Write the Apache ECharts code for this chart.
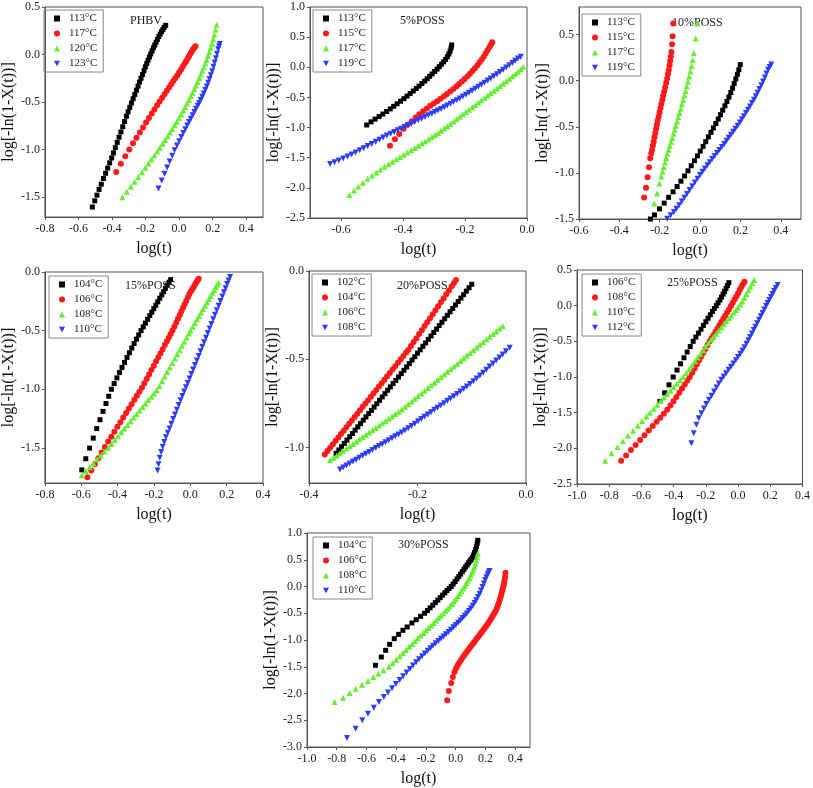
<!DOCTYPE html>
<html>
<head>
<meta charset="utf-8">
<script src="https://cdn.jsdelivr.net/npm/echarts@6/dist/echarts.min.js"></script>
<style>
  html, body { margin: 0; padding: 0; background: #fff; }
  #chart { width: 813px; height: 788px; }
</style>
</head>
<body>
<div id="chart"></div>
<script>
// ---- data: [log(t), log(-ln(1-X(t)))] ----

// PHBV
const phbvTemps = ['113°C', '117°C', '120°C', '123°C'];
const phbvXTicks = [-0.8, -0.6, -0.4, -0.2, 0, 0.2, 0.4];
const phbvYTicks = [-1.5, -1, -0.5, 0, 0.5];
const phbv113 = [[-0.517,-1.605],[-0.503,-1.54],[-0.490,-1.48],[-0.477,-1.42],[-0.464,-1.365],[-0.451,-1.305],[-0.438,-1.25],[-0.426,-1.195],[-0.414,-1.14],[-0.402,-1.088],[-0.391,-1.035],[-0.380,-0.98],[-0.369,-0.925],[-0.358,-0.87],[-0.347,-0.815],[-0.336,-0.76],[-0.325,-0.705],[-0.314,-0.65],[-0.304,-0.603],[-0.294,-0.556],[-0.284,-0.51],[-0.274,-0.465],[-0.264,-0.42],[-0.254,-0.375],[-0.245,-0.333],[-0.236,-0.29],[-0.227,-0.25],[-0.218,-0.21],[-0.209,-0.17],[-0.201,-0.13],[-0.193,-0.095],[-0.185,-0.06],[-0.177,-0.027],[-0.169,0.006],[-0.161,0.038],[-0.153,0.07],[-0.145,0.1],[-0.137,0.13],[-0.129,0.16],[-0.121,0.188],[-0.113,0.215],[-0.105,0.24],[-0.097,0.262],[-0.089,0.285],[-0.080,0.307]];
const phbv117 = [[-0.375,-1.237],[-0.347,-1.15],[-0.321,-1.07],[-0.297,-1.0],[-0.275,-0.935],[-0.254,-0.876],[-0.234,-0.82],[-0.215,-0.767],[-0.197,-0.716],[-0.180,-0.668],[-0.163,-0.621],[-0.147,-0.578],[-0.131,-0.535],[-0.116,-0.495],[-0.101,-0.455],[-0.087,-0.418],[-0.073,-0.381],[-0.060,-0.346],[-0.047,-0.312],[-0.035,-0.28],[-0.023,-0.25],[-0.011,-0.22],[0.000,-0.19],[0.011,-0.16],[0.021,-0.13],[0.031,-0.101],[0.041,-0.073],[0.050,-0.045],[0.059,-0.018],[0.067,0.008],[0.075,0.033],[0.083,0.055],[0.091,0.073],[0.098,0.087]];
const phbv120 = [[-0.338,-1.503],[-0.312,-1.445],[-0.288,-1.39],[-0.265,-1.338],[-0.243,-1.288],[-0.222,-1.24],[-0.202,-1.193],[-0.183,-1.148],[-0.165,-1.104],[-0.148,-1.062],[-0.131,-1.02],[-0.115,-0.98],[-0.099,-0.94],[-0.084,-0.9],[-0.069,-0.861],[-0.055,-0.822],[-0.041,-0.783],[-0.027,-0.745],[-0.014,-0.707],[-0.001,-0.669],[0.012,-0.63],[0.024,-0.592],[0.036,-0.553],[0.047,-0.516],[0.058,-0.478],[0.069,-0.44],[0.080,-0.402],[0.090,-0.364],[0.100,-0.326],[0.110,-0.288],[0.120,-0.249],[0.129,-0.211],[0.138,-0.172],[0.147,-0.133],[0.156,-0.093],[0.164,-0.054],[0.172,-0.014],[0.180,0.027],[0.188,0.07],[0.196,0.115],[0.203,0.16],[0.210,0.208],[0.217,0.26],[0.224,0.314]];
const phbv123 = [[-0.123,-1.409],[-0.104,-1.327],[-0.087,-1.255],[-0.071,-1.188],[-0.056,-1.125],[-0.041,-1.065],[-0.027,-1.008],[-0.013,-0.958],[0.000,-0.912],[0.013,-0.868],[0.025,-0.826],[0.037,-0.786],[0.048,-0.748],[0.059,-0.711],[0.070,-0.675],[0.081,-0.639],[0.091,-0.605],[0.101,-0.572],[0.111,-0.54],[0.120,-0.51],[0.129,-0.478],[0.138,-0.444],[0.147,-0.41],[0.156,-0.374],[0.165,-0.336],[0.173,-0.298],[0.181,-0.258],[0.189,-0.217],[0.197,-0.175],[0.205,-0.13],[0.212,-0.085],[0.219,-0.04],[0.226,0.007],[0.233,0.055],[0.238,0.085],[0.242,0.111]];

// 5%POSS
const poss5Temps = ['113°C', '115°C', '117°C', '119°C'];
const poss5XTicks = [-0.6, -0.4, -0.2, 0];
const poss5YTicks = [-2.5, -2, -1.5, -1, -0.5, 0, 0.5, 1];
const poss5_113 = [[-0.517,-0.957],[-0.503,-0.905],[-0.490,-0.86],[-0.477,-0.817],[-0.465,-0.775],[-0.453,-0.733],[-0.441,-0.69],[-0.430,-0.647],[-0.419,-0.605],[-0.408,-0.563],[-0.397,-0.52],[-0.387,-0.478],[-0.377,-0.436],[-0.367,-0.394],[-0.357,-0.352],[-0.348,-0.311],[-0.339,-0.27],[-0.330,-0.23],[-0.322,-0.19],[-0.314,-0.15],[-0.306,-0.11],[-0.298,-0.07],[-0.290,-0.03],[-0.283,0.01],[-0.276,0.05],[-0.269,0.09],[-0.263,0.13],[-0.257,0.175],[-0.252,0.22],[-0.248,0.268],[-0.245,0.32],[-0.243,0.37]];
const poss5_115 = [[-0.442,-1.3],[-0.426,-1.195],[-0.412,-1.105],[-0.398,-1.02],[-0.385,-0.955],[-0.372,-0.895],[-0.359,-0.835],[-0.347,-0.78],[-0.335,-0.73],[-0.323,-0.683],[-0.312,-0.64],[-0.301,-0.6],[-0.290,-0.562],[-0.279,-0.522],[-0.268,-0.482],[-0.258,-0.443],[-0.248,-0.403],[-0.238,-0.362],[-0.228,-0.32],[-0.219,-0.278],[-0.210,-0.236],[-0.201,-0.193],[-0.192,-0.15],[-0.184,-0.106],[-0.176,-0.06],[-0.168,-0.014],[-0.160,0.034],[-0.153,0.082],[-0.146,0.13],[-0.139,0.18],[-0.133,0.232],[-0.127,0.285],[-0.121,0.335],[-0.116,0.38],[-0.112,0.414]];
const poss5_117 = [[-0.573,-2.118],[-0.558,-2.045],[-0.544,-1.98],[-0.529,-1.915],[-0.514,-1.85],[-0.500,-1.795],[-0.486,-1.745],[-0.473,-1.696],[-0.460,-1.65],[-0.447,-1.607],[-0.434,-1.565],[-0.422,-1.525],[-0.410,-1.487],[-0.398,-1.45],[-0.386,-1.412],[-0.374,-1.375],[-0.362,-1.338],[-0.351,-1.302],[-0.340,-1.266],[-0.329,-1.23],[-0.318,-1.194],[-0.307,-1.158],[-0.297,-1.123],[-0.287,-1.088],[-0.277,-1.052],[-0.267,-1.016],[-0.257,-0.98],[-0.247,-0.94],[-0.237,-0.9],[-0.227,-0.86],[-0.217,-0.82],[-0.207,-0.781],[-0.197,-0.742],[-0.187,-0.703],[-0.177,-0.664],[-0.167,-0.625],[-0.157,-0.586],[-0.147,-0.547],[-0.137,-0.508],[-0.127,-0.469],[-0.117,-0.43],[-0.107,-0.39],[-0.097,-0.35],[-0.087,-0.31],[-0.077,-0.27],[-0.067,-0.23],[-0.057,-0.19],[-0.047,-0.15],[-0.038,-0.112],[-0.029,-0.074],[-0.020,-0.034],[-0.012,0.01]];
const poss5_119 = [[-0.635,-1.604],[-0.621,-1.575],[-0.607,-1.545],[-0.593,-1.513],[-0.579,-1.48],[-0.566,-1.447],[-0.553,-1.413],[-0.540,-1.378],[-0.527,-1.343],[-0.514,-1.307],[-0.501,-1.272],[-0.488,-1.237],[-0.476,-1.2],[-0.464,-1.165],[-0.452,-1.133],[-0.440,-1.102],[-0.428,-1.072],[-0.417,-1.045],[-0.406,-1.018],[-0.395,-0.99],[-0.384,-0.962],[-0.373,-0.935],[-0.362,-0.907],[-0.351,-0.88],[-0.340,-0.852],[-0.329,-0.825],[-0.318,-0.797],[-0.307,-0.77],[-0.297,-0.743],[-0.287,-0.717],[-0.277,-0.69],[-0.267,-0.662],[-0.257,-0.634],[-0.247,-0.606],[-0.237,-0.577],[-0.227,-0.547],[-0.217,-0.517],[-0.207,-0.486],[-0.197,-0.455],[-0.187,-0.423],[-0.177,-0.39],[-0.167,-0.357],[-0.157,-0.323],[-0.147,-0.289],[-0.137,-0.255],[-0.127,-0.22],[-0.117,-0.185],[-0.107,-0.15],[-0.097,-0.114],[-0.087,-0.077],[-0.077,-0.04],[-0.067,-0.003],[-0.057,0.035],[-0.047,0.073],[-0.038,0.11],[-0.029,0.145],[-0.020,0.176]];

// 10%POSS
const poss10Temps = ['113°C', '115°C', '117°C', '119°C'];
const poss10XTicks = [-0.6, -0.4, -0.2, 0, 0.2, 0.4];
const poss10YTicks = [-1.5, -1, -0.5, 0, 0.5];
const poss10_113 = [[-0.246,-1.5],[-0.226,-1.456],[-0.201,-1.39],[-0.178,-1.328],[-0.156,-1.265],[-0.134,-1.205],[-0.114,-1.148],[-0.095,-1.09],[-0.077,-1.033],[-0.060,-0.977],[-0.044,-0.922],[-0.028,-0.868],[-0.013,-0.815],[0.001,-0.763],[0.015,-0.712],[0.028,-0.661],[0.041,-0.61],[0.054,-0.56],[0.066,-0.512],[0.078,-0.464],[0.090,-0.416],[0.101,-0.368],[0.112,-0.32],[0.123,-0.272],[0.133,-0.225],[0.143,-0.177],[0.152,-0.128],[0.161,-0.08],[0.169,-0.03],[0.177,0.02],[0.185,0.07],[0.192,0.12],[0.199,0.175]];
const poss10_115 = [[-0.277,-1.268],[-0.268,-1.162],[-0.260,-1.048],[-0.253,-0.939],[-0.247,-0.84],[-0.242,-0.79],[-0.238,-0.749],[-0.234,-0.703],[-0.230,-0.658],[-0.226,-0.612],[-0.222,-0.567],[-0.218,-0.522],[-0.214,-0.477],[-0.210,-0.432],[-0.205,-0.387],[-0.201,-0.342],[-0.196,-0.297],[-0.192,-0.252],[-0.187,-0.207],[-0.183,-0.162],[-0.178,-0.116],[-0.173,-0.07],[-0.168,-0.023],[-0.163,0.025],[-0.159,0.072],[-0.155,0.12],[-0.151,0.168],[-0.148,0.215],[-0.145,0.262],[-0.142,0.311],[-0.139,0.395],[-0.136,0.483],[-0.133,0.622]];
const poss10_117 = [[-0.227,-1.333],[-0.213,-1.224],[-0.202,-1.114],[-0.193,-1.04],[-0.186,-0.985],[-0.180,-0.935],[-0.174,-0.885],[-0.168,-0.838],[-0.162,-0.792],[-0.156,-0.748],[-0.150,-0.705],[-0.144,-0.662],[-0.138,-0.62],[-0.132,-0.576],[-0.126,-0.532],[-0.120,-0.487],[-0.114,-0.442],[-0.108,-0.396],[-0.102,-0.35],[-0.096,-0.303],[-0.090,-0.256],[-0.084,-0.208],[-0.078,-0.16],[-0.072,-0.11],[-0.066,-0.06],[-0.060,-0.008],[-0.054,0.045],[-0.048,0.1],[-0.042,0.16],[-0.037,0.225],[-0.031,0.3],[-0.022,0.457],[-0.013,0.622]];
const poss10_119 = [[-0.163,-1.498],[-0.146,-1.46],[-0.130,-1.425],[-0.117,-1.39],[-0.104,-1.352],[-0.091,-1.311],[-0.078,-1.27],[-0.065,-1.228],[-0.052,-1.186],[-0.039,-1.145],[-0.026,-1.104],[-0.013,-1.063],[0.000,-1.022],[0.012,-0.987],[0.024,-0.952],[0.036,-0.918],[0.048,-0.884],[0.060,-0.85],[0.072,-0.817],[0.084,-0.784],[0.096,-0.751],[0.108,-0.718],[0.120,-0.685],[0.131,-0.652],[0.142,-0.619],[0.153,-0.586],[0.164,-0.553],[0.175,-0.52],[0.186,-0.487],[0.197,-0.453],[0.207,-0.419],[0.217,-0.385],[0.227,-0.35],[0.237,-0.315],[0.247,-0.279],[0.257,-0.242],[0.267,-0.205],[0.276,-0.168],[0.285,-0.13],[0.294,-0.09],[0.303,-0.05],[0.312,-0.008],[0.321,0.035],[0.329,0.078],[0.337,0.12],[0.345,0.15],[0.353,0.175]];

// 15%POSS
const poss15Temps = ['104°C', '106°C', '108°C', '110°C'];
const poss15XTicks = [-0.8, -0.6, -0.4, -0.2, 0, 0.2, 0.4];
const poss15YTicks = [-1.5, -1, -0.5, 0];
const poss15_104 = [[-0.597,-1.688],[-0.575,-1.593],[-0.554,-1.502],[-0.534,-1.417],[-0.515,-1.336],[-0.497,-1.26],[-0.480,-1.189],[-0.464,-1.122],[-0.449,-1.06],[-0.434,-1.0],[-0.419,-0.951],[-0.404,-0.903],[-0.390,-0.858],[-0.376,-0.814],[-0.362,-0.771],[-0.348,-0.729],[-0.335,-0.689],[-0.322,-0.649],[-0.309,-0.61],[-0.296,-0.573],[-0.284,-0.537],[-0.271,-0.5],[-0.259,-0.468],[-0.247,-0.436],[-0.235,-0.404],[-0.223,-0.372],[-0.212,-0.343],[-0.201,-0.313],[-0.190,-0.284],[-0.179,-0.254],[-0.168,-0.224],[-0.157,-0.195],[-0.147,-0.168],[-0.137,-0.14],[-0.127,-0.113],[-0.117,-0.087],[-0.108,-0.065]];
const poss15_106 = [[-0.566,-1.751],[-0.545,-1.694],[-0.525,-1.64],[-0.506,-1.589],[-0.488,-1.54],[-0.470,-1.492],[-0.452,-1.447],[-0.435,-1.405],[-0.418,-1.363],[-0.401,-1.321],[-0.385,-1.281],[-0.369,-1.241],[-0.353,-1.202],[-0.338,-1.165],[-0.323,-1.128],[-0.308,-1.09],[-0.294,-1.056],[-0.280,-1.022],[-0.266,-0.987],[-0.253,-0.95],[-0.240,-0.912],[-0.227,-0.875],[-0.214,-0.837],[-0.201,-0.8],[-0.188,-0.762],[-0.176,-0.727],[-0.164,-0.693],[-0.152,-0.658],[-0.140,-0.623],[-0.129,-0.591],[-0.118,-0.559],[-0.108,-0.529],[-0.098,-0.5],[-0.088,-0.466],[-0.078,-0.433],[-0.068,-0.399],[-0.058,-0.366],[-0.049,-0.335],[-0.040,-0.305],[-0.031,-0.275],[-0.022,-0.245],[-0.013,-0.215],[-0.005,-0.188],[0.003,-0.167],[0.011,-0.146],[0.019,-0.125],[0.027,-0.104],[0.034,-0.086],[0.040,-0.071],[0.046,-0.057]];
const poss15_108 = [[-0.597,-1.734],[-0.575,-1.699],[-0.554,-1.665],[-0.533,-1.631],[-0.512,-1.597],[-0.492,-1.565],[-0.472,-1.532],[-0.452,-1.5],[-0.434,-1.467],[-0.416,-1.434],[-0.398,-1.401],[-0.380,-1.368],[-0.363,-1.336],[-0.346,-1.305],[-0.329,-1.274],[-0.312,-1.242],[-0.295,-1.211],[-0.279,-1.182],[-0.263,-1.152],[-0.247,-1.123],[-0.231,-1.093],[-0.215,-1.064],[-0.200,-1.036],[-0.185,-1.009],[-0.170,-0.972],[-0.155,-0.931],[-0.141,-0.892],[-0.127,-0.854],[-0.113,-0.815],[-0.099,-0.776],[-0.085,-0.738],[-0.072,-0.702],[-0.059,-0.666],[-0.046,-0.63],[-0.033,-0.594],[-0.020,-0.559],[-0.008,-0.525],[0.001,-0.5],[0.013,-0.468],[0.025,-0.436],[0.037,-0.404],[0.048,-0.375],[0.059,-0.346],[0.070,-0.316],[0.081,-0.287],[0.092,-0.258],[0.102,-0.231],[0.112,-0.205],[0.122,-0.178],[0.131,-0.154],[0.140,-0.13],[0.148,-0.109],[0.155,-0.09]];
const poss15_110 = [[-0.180,-1.694],[-0.175,-1.64],[-0.168,-1.585],[-0.160,-1.535],[-0.152,-1.49],[-0.143,-1.45],[-0.134,-1.41],[-0.124,-1.372],[-0.114,-1.335],[-0.104,-1.295],[-0.094,-1.255],[-0.084,-1.215],[-0.074,-1.175],[-0.064,-1.135],[-0.054,-1.095],[-0.044,-1.057],[-0.034,-1.02],[-0.024,-0.983],[-0.014,-0.946],[-0.004,-0.908],[0.006,-0.87],[0.016,-0.832],[0.026,-0.793],[0.036,-0.755],[0.046,-0.716],[0.056,-0.677],[0.066,-0.638],[0.076,-0.599],[0.086,-0.56],[0.096,-0.521],[0.106,-0.482],[0.116,-0.443],[0.126,-0.404],[0.136,-0.365],[0.146,-0.326],[0.156,-0.287],[0.166,-0.248],[0.176,-0.209],[0.185,-0.173],[0.194,-0.138],[0.203,-0.103],[0.211,-0.072],[0.219,-0.042]];

// 20%POSS
const poss20Temps = ['102°C', '104°C', '106°C', '108°C'];
const poss20XTicks = [-0.4, -0.2, 0];
const poss20YTicks = [-1, -0.5, 0];
const poss20_102 = [[-0.350,-1.032],[-0.345,-1.013],[-0.340,-0.995],[-0.335,-0.976],[-0.330,-0.957],[-0.325,-0.938],[-0.320,-0.92],[-0.315,-0.901],[-0.310,-0.882],[-0.305,-0.864],[-0.300,-0.845],[-0.295,-0.826],[-0.290,-0.807],[-0.285,-0.789],[-0.280,-0.77],[-0.275,-0.751],[-0.270,-0.732],[-0.265,-0.713],[-0.260,-0.694],[-0.255,-0.675],[-0.250,-0.656],[-0.245,-0.637],[-0.240,-0.619],[-0.235,-0.6],[-0.230,-0.581],[-0.225,-0.562],[-0.220,-0.543],[-0.215,-0.524],[-0.210,-0.504],[-0.205,-0.485],[-0.200,-0.465],[-0.195,-0.446],[-0.190,-0.426],[-0.185,-0.407],[-0.180,-0.387],[-0.175,-0.368],[-0.170,-0.348],[-0.165,-0.329],[-0.160,-0.309],[-0.155,-0.29],[-0.150,-0.27],[-0.145,-0.251],[-0.140,-0.231],[-0.135,-0.212],[-0.130,-0.192],[-0.125,-0.173],[-0.120,-0.153],[-0.115,-0.134],[-0.110,-0.114],[-0.105,-0.095],[-0.100,-0.075]];
const poss20_104 = [[-0.371,-1.038],[-0.366,-1.019],[-0.361,-1.0],[-0.356,-0.98],[-0.351,-0.961],[-0.346,-0.942],[-0.341,-0.923],[-0.336,-0.904],[-0.331,-0.884],[-0.326,-0.865],[-0.321,-0.846],[-0.316,-0.827],[-0.311,-0.808],[-0.306,-0.788],[-0.301,-0.769],[-0.296,-0.75],[-0.291,-0.731],[-0.286,-0.712],[-0.281,-0.692],[-0.276,-0.673],[-0.271,-0.654],[-0.266,-0.635],[-0.261,-0.616],[-0.256,-0.596],[-0.251,-0.577],[-0.246,-0.558],[-0.241,-0.539],[-0.236,-0.52],[-0.231,-0.5],[-0.226,-0.481],[-0.221,-0.462],[-0.217,-0.447],[-0.212,-0.425],[-0.207,-0.402],[-0.202,-0.38],[-0.197,-0.357],[-0.192,-0.335],[-0.187,-0.312],[-0.182,-0.29],[-0.177,-0.267],[-0.172,-0.245],[-0.167,-0.222],[-0.162,-0.2],[-0.157,-0.177],[-0.152,-0.155],[-0.147,-0.132],[-0.142,-0.11],[-0.137,-0.087],[-0.133,-0.069],[-0.129,-0.051]];
const poss20_106 = [[-0.361,-1.07],[-0.355,-1.057],[-0.349,-1.044],[-0.343,-1.031],[-0.337,-1.018],[-0.331,-1.005],[-0.325,-0.992],[-0.319,-0.979],[-0.313,-0.966],[-0.307,-0.953],[-0.301,-0.94],[-0.295,-0.927],[-0.289,-0.914],[-0.283,-0.901],[-0.277,-0.888],[-0.271,-0.875],[-0.265,-0.862],[-0.259,-0.849],[-0.253,-0.836],[-0.247,-0.823],[-0.241,-0.81],[-0.235,-0.797],[-0.229,-0.784],[-0.223,-0.769],[-0.217,-0.754],[-0.211,-0.739],[-0.205,-0.723],[-0.199,-0.708],[-0.193,-0.693],[-0.187,-0.678],[-0.181,-0.662],[-0.175,-0.647],[-0.169,-0.632],[-0.163,-0.616],[-0.157,-0.601],[-0.151,-0.586],[-0.145,-0.57],[-0.139,-0.555],[-0.133,-0.54],[-0.127,-0.525],[-0.121,-0.509],[-0.115,-0.494],[-0.109,-0.479],[-0.103,-0.464],[-0.097,-0.448],[-0.091,-0.433],[-0.085,-0.418],[-0.079,-0.403],[-0.073,-0.387],[-0.067,-0.372],[-0.061,-0.357],[-0.055,-0.342],[-0.049,-0.326],[-0.043,-0.311]];
const poss20_108 = [[-0.343,-1.123],[-0.337,-1.112],[-0.331,-1.101],[-0.325,-1.09],[-0.319,-1.079],[-0.313,-1.068],[-0.307,-1.057],[-0.301,-1.046],[-0.295,-1.035],[-0.289,-1.024],[-0.283,-1.013],[-0.277,-1.002],[-0.271,-0.991],[-0.265,-0.98],[-0.259,-0.969],[-0.253,-0.958],[-0.247,-0.947],[-0.241,-0.936],[-0.235,-0.925],[-0.229,-0.914],[-0.223,-0.903],[-0.217,-0.89],[-0.211,-0.877],[-0.205,-0.864],[-0.199,-0.851],[-0.193,-0.838],[-0.187,-0.825],[-0.181,-0.812],[-0.175,-0.799],[-0.169,-0.786],[-0.163,-0.774],[-0.157,-0.761],[-0.151,-0.748],[-0.145,-0.735],[-0.139,-0.722],[-0.133,-0.709],[-0.127,-0.696],[-0.121,-0.682],[-0.115,-0.668],[-0.109,-0.654],[-0.103,-0.639],[-0.097,-0.624],[-0.091,-0.608],[-0.085,-0.592],[-0.079,-0.576],[-0.073,-0.559],[-0.067,-0.541],[-0.061,-0.524],[-0.055,-0.506],[-0.049,-0.489],[-0.043,-0.472],[-0.037,-0.454],[-0.030,-0.434]];

// 25%POSS
const poss25Temps = ['106°C', '108°C', '110°C', '112°C'];
const poss25XTicks = [-1, -0.8, -0.6, -0.4, -0.2, 0, 0.2, 0.4];
const poss25YTicks = [-2.5, -2, -1.5, -1, -0.5, 0, 0.5];
const poss25_106 = [[-0.485,-1.343],[-0.456,-1.222],[-0.429,-1.11],[-0.403,-1.0],[-0.379,-0.903],[-0.357,-0.815],[-0.336,-0.73],[-0.316,-0.65],[-0.297,-0.573],[-0.279,-0.5],[-0.262,-0.44],[-0.246,-0.385],[-0.230,-0.33],[-0.215,-0.277],[-0.200,-0.225],[-0.186,-0.176],[-0.172,-0.128],[-0.159,-0.082],[-0.147,-0.04],[-0.135,0.0],[-0.124,0.04],[-0.113,0.08],[-0.103,0.12],[-0.093,0.162],[-0.084,0.2],[-0.075,0.24],[-0.066,0.282],[-0.057,0.323]];
const poss25_108 = [[-0.726,-2.174],[-0.695,-2.1],[-0.665,-2.025],[-0.636,-1.952],[-0.608,-1.882],[-0.581,-1.815],[-0.555,-1.75],[-0.530,-1.688],[-0.506,-1.628],[-0.483,-1.571],[-0.461,-1.516],[-0.440,-1.46],[-0.420,-1.4],[-0.401,-1.34],[-0.383,-1.28],[-0.365,-1.22],[-0.348,-1.162],[-0.331,-1.105],[-0.315,-1.05],[-0.300,-1.0],[-0.285,-0.94],[-0.270,-0.88],[-0.256,-0.822],[-0.242,-0.765],[-0.228,-0.71],[-0.215,-0.656],[-0.202,-0.603],[-0.189,-0.551],[-0.176,-0.5],[-0.164,-0.455],[-0.152,-0.41],[-0.140,-0.365],[-0.128,-0.32],[-0.116,-0.275],[-0.104,-0.23],[-0.092,-0.185],[-0.080,-0.14],[-0.068,-0.095],[-0.056,-0.05],[-0.044,-0.004],[-0.033,0.04],[-0.022,0.085],[-0.011,0.13],[0.000,0.175],[0.010,0.22],[0.020,0.26],[0.030,0.3],[0.040,0.337]];
const poss25_110 = [[-0.825,-2.174],[-0.785,-2.07],[-0.749,-1.98],[-0.715,-1.9],[-0.683,-1.825],[-0.652,-1.752],[-0.623,-1.683],[-0.596,-1.617],[-0.570,-1.555],[-0.547,-1.5],[-0.524,-1.444],[-0.502,-1.39],[-0.481,-1.338],[-0.460,-1.288],[-0.440,-1.24],[-0.420,-1.192],[-0.400,-1.143],[-0.380,-1.095],[-0.360,-1.047],[-0.341,-1.0],[-0.322,-0.943],[-0.304,-0.888],[-0.286,-0.834],[-0.268,-0.78],[-0.251,-0.728],[-0.234,-0.676],[-0.217,-0.625],[-0.200,-0.573],[-0.184,-0.524],[-0.168,-0.478],[-0.152,-0.435],[-0.136,-0.392],[-0.120,-0.349],[-0.104,-0.305],[-0.088,-0.262],[-0.072,-0.219],[-0.057,-0.178],[-0.042,-0.138],[-0.027,-0.097],[-0.013,-0.059],[0.000,-0.024],[0.013,0.015],[0.026,0.06],[0.039,0.11],[0.052,0.163],[0.064,0.215],[0.076,0.265],[0.088,0.314],[0.100,0.36]];
const poss25_112 = [[-0.290,-1.927],[-0.275,-1.787],[-0.259,-1.67],[-0.244,-1.577],[-0.228,-1.507],[-0.212,-1.44],[-0.197,-1.38],[-0.181,-1.32],[-0.165,-1.263],[-0.149,-1.205],[-0.134,-1.148],[-0.119,-1.092],[-0.104,-1.04],[-0.089,-0.992],[-0.074,-0.946],[-0.059,-0.9],[-0.044,-0.855],[-0.029,-0.81],[-0.014,-0.765],[0.000,-0.72],[0.014,-0.675],[0.027,-0.63],[0.040,-0.582],[0.052,-0.535],[0.064,-0.486],[0.075,-0.438],[0.086,-0.39],[0.097,-0.342],[0.108,-0.294],[0.119,-0.246],[0.130,-0.198],[0.141,-0.15],[0.152,-0.102],[0.163,-0.054],[0.174,-0.006],[0.184,0.037],[0.194,0.08],[0.204,0.122],[0.214,0.164],[0.224,0.206],[0.234,0.248],[0.246,0.29]];

// 30%POSS
const poss30Temps = ['104°C', '106°C', '108°C', '110°C'];
const poss30XTicks = [-1, -0.8, -0.6, -0.4, -0.2, 0, 0.2, 0.4];
const poss30YTicks = [-3, -2.5, -2, -1.5, -1, -0.5, 0, 0.5, 1];
const poss30_104 = [[-0.539,-1.473],[-0.500,-1.318],[-0.471,-1.193],[-0.444,-1.081],[-0.413,-0.975],[-0.384,-0.894],[-0.355,-0.819],[-0.326,-0.757],[-0.294,-0.682],[-0.265,-0.62],[-0.236,-0.558],[-0.209,-0.5],[-0.190,-0.45],[-0.172,-0.4],[-0.154,-0.35],[-0.137,-0.302],[-0.120,-0.254],[-0.104,-0.208],[-0.088,-0.162],[-0.073,-0.118],[-0.058,-0.075],[-0.044,-0.036],[-0.030,0.0],[-0.017,0.045],[-0.004,0.092],[0.009,0.14],[0.021,0.186],[0.033,0.232],[0.045,0.278],[0.056,0.322],[0.067,0.365],[0.077,0.405],[0.087,0.445],[0.096,0.478],[0.104,0.505],[0.112,0.54],[0.120,0.585],[0.127,0.635],[0.134,0.69],[0.140,0.75],[0.145,0.81],[0.149,0.863]];
const poss30_106 = [[-0.057,-2.128],[-0.046,-1.953],[-0.030,-1.804],[-0.019,-1.692],[-0.008,-1.598],[0.003,-1.53],[0.014,-1.47],[0.025,-1.42],[0.036,-1.373],[0.047,-1.328],[0.058,-1.285],[0.069,-1.242],[0.080,-1.2],[0.091,-1.16],[0.102,-1.12],[0.113,-1.08],[0.124,-1.04],[0.135,-1.0],[0.146,-0.96],[0.157,-0.92],[0.167,-0.882],[0.177,-0.845],[0.187,-0.807],[0.197,-0.77],[0.207,-0.732],[0.217,-0.693],[0.226,-0.655],[0.235,-0.615],[0.244,-0.575],[0.253,-0.535],[0.261,-0.495],[0.269,-0.452],[0.277,-0.405],[0.284,-0.355],[0.291,-0.3],[0.297,-0.245],[0.303,-0.19],[0.308,-0.135],[0.313,-0.08],[0.318,-0.03],[0.322,0.02],[0.326,0.07],[0.329,0.12],[0.332,0.18],[0.335,0.259]];
const poss30_108 = [[-0.814,-2.159],[-0.758,-2.078],[-0.713,-1.991],[-0.673,-1.91],[-0.630,-1.835],[-0.590,-1.766],[-0.554,-1.692],[-0.520,-1.628],[-0.486,-1.566],[-0.449,-1.5],[-0.424,-1.435],[-0.400,-1.37],[-0.377,-1.306],[-0.355,-1.245],[-0.334,-1.187],[-0.313,-1.128],[-0.293,-1.073],[-0.274,-1.02],[-0.255,-0.968],[-0.236,-0.917],[-0.218,-0.87],[-0.200,-0.823],[-0.183,-0.777],[-0.166,-0.731],[-0.149,-0.684],[-0.132,-0.636],[-0.116,-0.59],[-0.100,-0.545],[-0.084,-0.5],[-0.069,-0.457],[-0.054,-0.415],[-0.040,-0.375],[-0.026,-0.328],[-0.012,-0.28],[0.001,-0.232],[0.014,-0.183],[0.027,-0.133],[0.039,-0.083],[0.051,-0.033],[0.062,0.015],[0.073,0.063],[0.083,0.11],[0.093,0.16],[0.102,0.21],[0.111,0.262],[0.119,0.315],[0.126,0.37],[0.132,0.425],[0.138,0.48],[0.144,0.545],[0.149,0.614]];
const poss30_110 = [[-0.731,-2.832],[-0.673,-2.657],[-0.628,-2.502],[-0.590,-2.377],[-0.550,-2.265],[-0.516,-2.159],[-0.483,-2.065],[-0.455,-1.98],[-0.428,-1.9],[-0.402,-1.822],[-0.377,-1.748],[-0.353,-1.676],[-0.330,-1.606],[-0.308,-1.54],[-0.287,-1.478],[-0.266,-1.418],[-0.246,-1.36],[-0.226,-1.305],[-0.207,-1.252],[-0.188,-1.2],[-0.170,-1.152],[-0.152,-1.106],[-0.134,-1.062],[-0.116,-1.019],[-0.099,-0.978],[-0.082,-0.936],[-0.065,-0.894],[-0.048,-0.851],[-0.031,-0.807],[-0.015,-0.764],[0.001,-0.721],[0.017,-0.678],[0.032,-0.635],[0.047,-0.59],[0.061,-0.548],[0.075,-0.505],[0.089,-0.46],[0.102,-0.412],[0.115,-0.362],[0.127,-0.31],[0.139,-0.255],[0.150,-0.198],[0.161,-0.138],[0.171,-0.075],[0.181,-0.01],[0.190,0.055],[0.199,0.12],[0.207,0.175],[0.215,0.225],[0.222,0.26],[0.228,0.29]];

// ---- panels: data refs + where each one sits on the page ----
const panels = [
  { title: 'PHBV', temps: phbvTemps, data: [phbv113, phbv117, phbv120, phbv123],
    xTicks: phbvXTicks, yTicks: phbvYTicks, xMin: -0.8, xMax: 0.5, yMin: -1.71, yMax: 0.5,
    grid: [41, 7, 222, 210], legend: [44, 10], label: [130, 15] },
  { title: '5%POSS', temps: poss5Temps, data: [poss5_113, poss5_115, poss5_117, poss5_119],
    xTicks: poss5XTicks, yTicks: poss5YTicks, xMin: -0.7, xMax: 0, yMin: -2.5, yMax: 1,
    grid: [310, 7, 217, 211], legend: [313, 10], label: [400, 15] },
  { title: '10%POSS', temps: poss10Temps, data: [poss10_113, poss10_115, poss10_117, poss10_119],
    xTicks: poss10XTicks, yTicks: poss10YTicks, xMin: -0.6, xMax: 0.5, yMin: -1.5, yMax: 0.8,
    grid: [579, 7, 222, 212], legend: [582, 14], label: [672, 17] },
  { title: '15%POSS', temps: poss15Temps, data: [poss15_104, poss15_106, poss15_108, poss15_110],
    xTicks: poss15XTicks, yTicks: poss15YTicks, xMin: -0.8, xMax: 0.4, yMin: -1.8, yMax: 0,
    grid: [43, 272, 220, 211], legend: [49, 276], label: [125, 280] },
  { title: '20%POSS', temps: poss20Temps, data: [poss20_102, poss20_104, poss20_106, poss20_108],
    xTicks: poss20XTicks, yTicks: poss20YTicks, xMin: -0.4, xMax: 0, yMin: -1.2, yMax: 0,
    grid: [309, 271, 217, 212], legend: [312, 274], label: [397, 280] },
  { title: '25%POSS', temps: poss25Temps, data: [poss25_106, poss25_108, poss25_110, poss25_112],
    xTicks: poss25XTicks, yTicks: poss25YTicks, xMin: -1, xMax: 0.4, yMin: -2.5, yMax: 0.5,
    grid: [577, 270, 226, 214], legend: [582, 274], label: [667, 277] },
  { title: '30%POSS', temps: poss30Temps, data: [poss30_104, poss30_106, poss30_108, poss30_110],
    xTicks: poss30XTicks, yTicks: poss30YTicks, xMin: -1, xMax: 0.5, yMin: -3, yMax: 1,
    grid: [307, 533, 223, 214], legend: [313, 537], label: [398, 539] }
];

const colors = ['#000000', '#ff1a1a', '#66ee33', '#2a3cff'];
const symbols = ['rect', 'circle', 'triangle', 'triangle'];
const rotates = [0, 0, 0, 180];
const sizes = [5, 6, 6, 6];
// legend icons; the last one is the downward triangle
const legendIcons = ['rect', 'circle', 'triangle', 'path://M0,0L10,0L5,9Z'];
const FONT = 'Liberation Serif, Times New Roman, serif';
const fmt = v => Number(v).toFixed(1);

const option = {
  animation: false,
  backgroundColor: '#fff',
  grid: [], xAxis: [], yAxis: [], legend: [], series: [], graphic: []
};

panels.forEach((p, i) => {
  const [gl, gt, gw, gh] = p.grid;
  option.grid.push({ left: gl, top: gt, width: gw, height: gh, show: true,
    borderColor: '#555', borderWidth: 1, backgroundColor: 'transparent' });
  option.xAxis.push({
    type: 'value', gridIndex: i, min: p.xMin, max: p.xMax,
    name: 'log(t)', nameLocation: 'middle', nameGap: 24,
    nameTextStyle: { fontFamily: FONT, fontSize: 16, color: '#111' },
    axisLine: { onZero: false, lineStyle: { color: '#555' } },
    axisTick: { show: true, length: 3, customValues: p.xTicks, lineStyle: { color: '#555' } },
    splitLine: { show: false },
    axisLabel: { customValues: p.xTicks, formatter: fmt, fontFamily: FONT, fontSize: 12, color: '#222', margin: 6 }
  });
  option.yAxis.push({
    type: 'value', gridIndex: i, min: p.yMin, max: p.yMax,
    name: 'log[-ln(1-X(t))]', nameLocation: 'middle', nameGap: 26, nameRotate: 90,
    nameTextStyle: { fontFamily: FONT, fontSize: 16, color: '#111' },
    axisLine: { onZero: false, lineStyle: { color: '#555' } },
    axisTick: { show: true, length: 3, customValues: p.yTicks, lineStyle: { color: '#555' } },
    splitLine: { show: false },
    axisLabel: { customValues: p.yTicks, formatter: fmt, fontFamily: FONT, fontSize: 12, color: '#222', margin: 5 }
  });
  const names = p.temps.map(t => t + '#' + i);
  names.forEach((name, k) => {
    option.series.push({
      type: 'scatter', name: name, xAxisIndex: i, yAxisIndex: i,
      symbol: symbols[k], symbolSize: sizes[k], symbolRotate: rotates[k],
      itemStyle: { color: colors[k], opacity: 1 },
      data: p.data[k]
    });
  });
  option.legend.push({
    data: names.map((n, k) => ({ name: n, icon: legendIcons[k] })),
    left: p.legend[0], top: p.legend[1], orient: 'vertical',
    selectedMode: false, itemWidth: 6, itemHeight: 6, itemGap: 4,
    padding: [3, 6, 3, 10], borderColor: '#888', borderWidth: 1,
    formatter: n => n.split('#')[0],
    textStyle: { fontFamily: FONT, fontSize: 11, lineHeight: 11, color: '#222', padding: [0, 0, 0, 4] }
  });
  option.graphic.push({
    type: 'text', left: p.label[0], top: p.label[1],
    style: { text: p.title, font: '12px ' + FONT, fill: '#222' }
  });
});

const chart = echarts.init(document.getElementById('chart'));
chart.setOption(option);
</script>
</body>
</html>
